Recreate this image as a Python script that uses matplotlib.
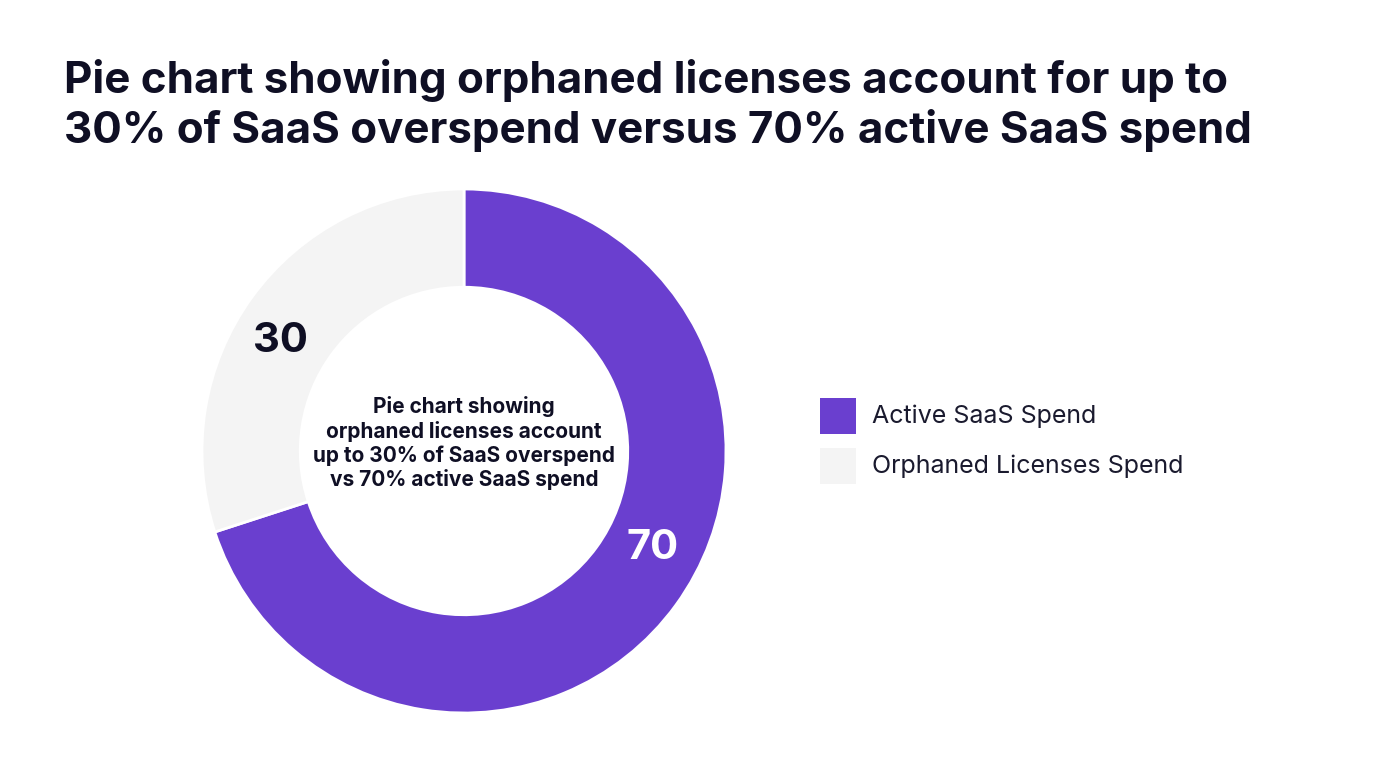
import matplotlib
matplotlib.use('Agg')
import matplotlib.pyplot as plt
from matplotlib.patches import Rectangle

plt.rcParams['font.family'] = ['Inter', 'DejaVu Sans']

# data
labels = ['Active SaaS Spend', 'Orphaned Licenses Spend']
values = [70, 30]
colors = ['#6a3fcf', '#f4f4f4']
title = ('Pie chart showing orphaned licenses account for up to\n'
         '30% of SaaS overspend versus 70% active SaaS spend')
center_text = ('Pie chart showing\norphaned licenses account\n'
               'up to 30% of SaaS overspend\nvs 70% active SaaS spend')

W, H = 1376, 768
fig = plt.figure(figsize=(W / 100, H / 100), dpi=100)
fig.patch.set_facecolor('white')

fig.text(64 / W, 1 - 59 / H, title, ha='left', va='top', fontsize=31.6,
         fontweight='bold', color='#0f0f24', linespacing=1.22)

# donut: center (464, 451), outer radius 262 px
cx, cy, r = 464, 451, 262
ax = fig.add_axes([(cx - r) / W, (H - cy - r) / H, 2 * r / W, 2 * r / H])
wedges, _ = ax.pie(values, colors=colors, startangle=90, counterclock=False,
                   radius=1, wedgeprops=dict(width=0.375, edgecolor='white', linewidth=2))
ax.set_xlim(-1, 1)
ax.set_ylim(-1, 1)
ax.set_aspect('equal')
ax.axis('off')

ax.text(0.72, -0.37, str(values[0]), ha='center', va='center', fontsize=30,
        fontweight='bold', color='white')
ax.text(-0.70, 0.42, str(values[1]), ha='center', va='center', fontsize=30,
        fontweight='bold', color='#0f0f24')
ax.text(0, 0.03, center_text, ha='center', va='center', fontsize=15,
        fontweight='bold', color='#0f0f24', linespacing=1.22)

# legend drawn as squares + labels
for i, (lab, col) in enumerate(zip(labels, colors)):
    y_top = 398 + i * 50
    fig.patches.append(Rectangle((820 / W, 1 - (y_top + 36) / H), 36 / W, 36 / H,
                                 transform=fig.transFigure, facecolor=col,
                                 edgecolor='none'))
    fig.text(872 / W, 1 - (y_top + 18) / H, lab, ha='left', va='center',
             fontsize=18, color='#1a1a2e')

fig.savefig('out.png', dpi=100, facecolor='white')
